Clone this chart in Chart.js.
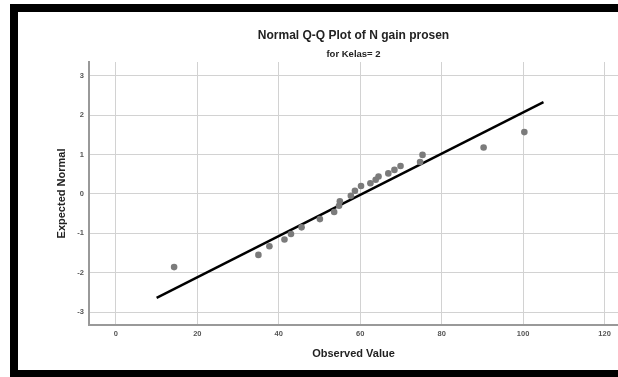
<!DOCTYPE html>
<html>
<head>
<meta charset="utf-8">
<script src="https://cdn.jsdelivr.net/npm/chart.js@4/dist/chart.umd.min.js"></script>
<style>
  html, body { margin: 0; padding: 0; background: #fff; }
  #wrap { position: relative; width: 618px; height: 377px; overflow: hidden; }
  #qq { position: absolute; left: 0; top: 0; }
  /* black frame round the output, cropped on the right */
  #frame {
    position: absolute; left: 10px; top: 4px; width: 608px; height: 373px;
    box-sizing: border-box; border-left: 8px solid #000; border-top: 8px solid #000;
    border-bottom: 7px solid #000; pointer-events: none;
  }
</style>
</head>
<body>
<div id="wrap">
  <canvas id="qq" width="618" height="377"></canvas>
  <div id="frame"></div>
</div>
<script>
const observed = [14.3, 35.0, 37.7, 41.4, 43.0, 45.6, 50.1, 53.6, 54.8, 55.0, 57.7,
                  58.7, 60.2, 62.5, 63.8, 64.5, 66.9, 68.4, 69.9, 74.7, 75.3, 90.3, 100.3];
const expected = [-1.86, -1.55, -1.33, -1.16, -1.02, -0.85, -0.64, -0.46, -0.30, -0.19, -0.05,
                  0.08, 0.20, 0.27, 0.36, 0.44, 0.52, 0.61, 0.71, 0.81, 0.99, 1.18, 1.57];

// reference line end points
const lineX = [10, 105];
const lineY = [-2.64, 2.33];

const xTicks = [0, 20, 40, 60, 80, 100, 120];
const yTicks = [-3, -2, -1, 0, 1, 2, 3];

const FONT = '"Liberation Sans", Arial, sans-serif';
const tickFont = { family: FONT, size: 7.5, weight: 'bold' };
const axisTitleFont = { family: FONT, size: 11, weight: 'bold', lineHeight: 1.2 };

new Chart(document.getElementById('qq'), {
  type: 'scatter',
  data: {
    datasets: [
      {
        data: observed.map((x, i) => ({ x, y: expected[i] })),
        backgroundColor: '#7b7b7b',
        borderWidth: 0,
        pointRadius: 3.3,
      },
      {
        data: lineX.map((x, i) => ({ x, y: lineY[i] })),
        showLine: true,
        borderColor: '#000',
        borderWidth: 2.4,
        pointRadius: 0,
      },
    ],
  },
  options: {
    responsive: false,
    animation: false,
    // plot runs off the right edge of the picture, no padding for point overflow
    layout: { padding: 0, autoPadding: false },
    plugins: {
      legend: { display: false },
      tooltip: { enabled: false },
      title: {
        display: true,
        fullSize: false,
        text: 'Normal Q-Q Plot of N gain prosen',
        color: '#222',
        font: { family: FONT, size: 12, weight: 'bold', lineHeight: 1.2 },
        padding: { top: 28.3, bottom: 0 },
      },
      subtitle: {
        display: true,
        fullSize: false,
        text: 'for Kelas= 2',
        color: '#222',
        font: { family: FONT, size: 9.5, weight: 'bold', lineHeight: 1.2 },
        padding: { top: 6, bottom: 1.9 },
      },
    },
    scales: {
      x: {
        min: -6.6,
        max: 123.3,
        afterBuildTicks: s => { s.ticks = xTicks.map(v => ({ value: v })); },
        afterFit: s => { s.height = 52; s.paddingLeft = 0; s.paddingRight = 0; },
        grid: { color: '#d2d2d2', lineWidth: 1, drawTicks: false },
        border: { color: '#999', width: 2 },
        ticks: { color: '#555', font: tickFont, padding: 4, maxRotation: 0 },
        title: {
          display: true,
          text: 'Observed Value',
          color: '#222',
          font: axisTitleFont,
          padding: { top: 0, bottom: 16.4 },
        },
      },
      y: {
        min: -3.33,
        max: 3.35,
        afterBuildTicks: s => { s.ticks = yTicks.map(v => ({ value: v })); },
        afterFit: s => { s.width = 89; s.paddingTop = 0; s.paddingBottom = 0; },
        grid: { color: '#d2d2d2', lineWidth: 1, drawTicks: false },
        border: { color: '#999', width: 2 },
        ticks: { color: '#555', font: tickFont, padding: 5 },
        title: {
          display: true,
          text: 'Expected Normal',
          color: '#222',
          font: axisTitleFont,
          padding: { top: 55.4, bottom: 0 },
        },
      },
    },
  },
});
</script>
</body>
</html>
